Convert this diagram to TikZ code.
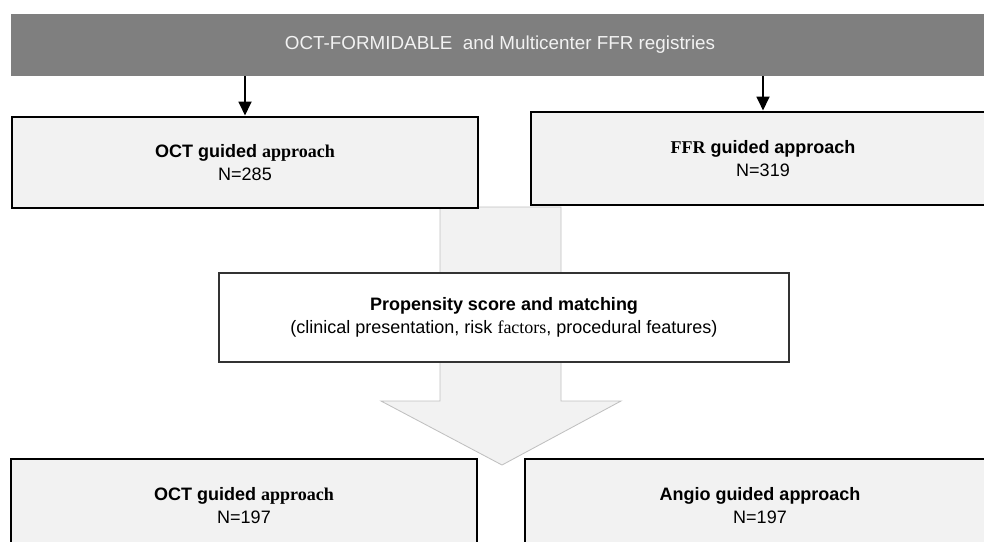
\documentclass[tikz,border=0pt]{standalone}
\usepackage{fontspec}
\setmainfont{Liberation Sans}
\newfontfamily\serifpart{Liberation Serif}
\usetikzlibrary{arrows.meta}
\definecolor{bannergray}{HTML}{7F7F7F}
\definecolor{boxgray}{HTML}{F2F2F2}
\definecolor{arrowgray}{HTML}{C0C0C0}

\begin{document}
\begin{tikzpicture}[
  every node/.style={font=\fontsize{12.8}{16.4}\selectfont},
  groupbox/.style={draw, line width=2pt, fill=boxgray, align=center, inner sep=0pt},
  flow/.style={-{Triangle[width=9pt,length=10pt]}, line width=2pt}
]
\useasboundingbox (0,0) rectangle (24.6,-13.525);
% big arrow behind the matching box
\draw [fill=boxgray, draw=arrowgray, line width=0.6pt] (11.0,-5.175) -- (14.025,-5.175) -- (14.025,-10.025) -- (15.525,-10.025) -- (12.55,-11.625) -- (9.525,-10.025) -- (11.0,-10.025) -- cycle;
\draw (12.5,-1.125) node[fill=bannergray, text=boxgray, minimum width=24.45cm, minimum height=1.55cm, font=\fontsize{13.4}{16.4}\selectfont] (registries) {OCT-FORMIDABLE\ \ and Multicenter FFR registries};
\draw (6.125,-4.0625) node[groupbox, minimum width=11.65cm, minimum height=2.275cm] (octall) {\textbf{OCT guided {\serifpart approach}}\\N=285};
\draw (19.075,-3.9625) node[groupbox, minimum width=11.6cm, minimum height=2.325cm] (ffrall) {\textbf{{\serifpart FFR} guided approach}\\N=319};
\draw (12.6,-7.9375) node[draw, line width=1pt, draw=black!80, fill=white, align=center, minimum width=14.25cm, minimum height=2.225cm] (matching) {\textbf{Propensity\ score and matching}\\(clinical presentation,\ risk {\serifpart factors},\ procedural\ features)};
\draw (6.1,-12.65) node[groupbox, minimum width=11.65cm, minimum height=2.35cm] (octmatched) {\textbf{OCT guided {\serifpart approach}}\\N=197};
\draw (19.0,-12.65) node[groupbox, minimum width=11.75cm, minimum height=2.35cm] (angiomatched) {\textbf{Angio guided approach}\\N=197};
\draw [flow] (registries.south -| octall.north) -- (octall.north);
\draw [flow] (registries.south -| ffrall.north) -- (ffrall.north);
\end{tikzpicture}
\end{document}
